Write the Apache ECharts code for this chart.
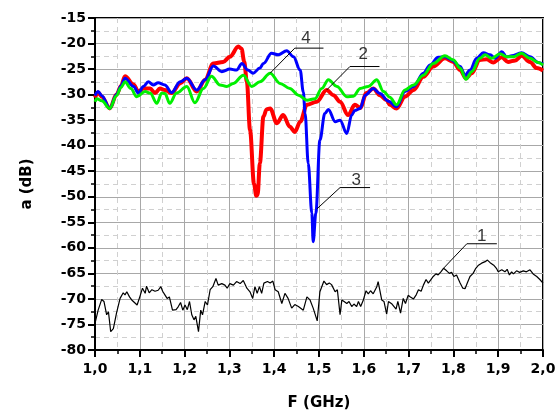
<!DOCTYPE html>
<html>
<head>
<meta charset="utf-8">
<script src="https://cdn.jsdelivr.net/npm/echarts@6/dist/echarts.min.js"></script>
<style>html,body{margin:0;padding:0;background:#fff}#c{width:557px;height:411px}</style>
</head>
<body>
<div id="c"></div>
<script>
// ---- data ----
const redF = [1.000,1.007,1.015,1.033,1.048,1.058,1.067,1.086,1.097,1.108,1.123,1.134,1.145,1.156,1.171,1.190,1.205,1.227,1.246,1.264,1.286,1.301,1.320,1.327,1.333,1.339,1.346,1.355,1.360,1.363,1.368,1.376,1.383,1.391,1.406,1.420,1.435,1.446,1.458,1.473,1.495,1.517,1.532,1.547,1.565,1.580,1.592,1.606,1.621,1.636,1.651,1.658,1.673,1.692,1.711,1.733,1.755,1.781,1.800,1.815,1.828,1.841,1.859,1.874,1.889,1.908,1.922,1.938,1.952,1.971,1.986,2.000];
const redA = [-30.6,-29.6,-30.4,-32.7,-30.0,-28.3,-26.4,-28.0,-29.4,-28.8,-28.8,-29.7,-28.8,-29.1,-29.7,-27.8,-26.8,-29.4,-27.1,-23.9,-23.6,-22.6,-20.6,-21.0,-23.5,-27.5,-36.9,-47.5,-49.8,-49.6,-43.4,-34.3,-32.9,-32.7,-35.6,-34.0,-36.3,-37.3,-35.3,-32.0,-31.4,-29.1,-30.1,-31.4,-34.0,-32.0,-32.6,-29.7,-28.8,-30.1,-31.1,-32.0,-32.7,-30.4,-29.1,-26.5,-24.5,-22.9,-23.6,-25.2,-26.8,-25.8,-23.2,-23.1,-23.7,-22.7,-23.6,-23.3,-22.4,-23.6,-24.8,-25.3];

const blueF = [1.000,1.007,1.015,1.033,1.048,1.058,1.067,1.086,1.097,1.108,1.119,1.130,1.141,1.156,1.171,1.190,1.205,1.227,1.246,1.264,1.283,1.301,1.316,1.328,1.341,1.353,1.368,1.376,1.394,1.409,1.428,1.443,1.458,1.465,1.469,1.476,1.484,1.487,1.493,1.502,1.513,1.521,1.536,1.547,1.562,1.573,1.580,1.592,1.603,1.621,1.636,1.655,1.673,1.692,1.711,1.733,1.748,1.766,1.781,1.796,1.815,1.826,1.837,1.852,1.867,1.882,1.893,1.908,1.919,1.930,1.952,1.971,1.989,2.000];
const blueA = [-30.2,-29.4,-30.2,-32.7,-30.0,-28.3,-26.8,-28.4,-29.7,-28.4,-27.5,-28.1,-27.7,-28.1,-29.6,-27.5,-26.8,-29.1,-27.1,-24.4,-25.5,-25.0,-25.2,-23.9,-25.2,-25.8,-24.8,-23.9,-21.9,-22.2,-21.4,-22.6,-25.2,-29.5,-33.7,-43.5,-53.2,-58.8,-53.2,-38.9,-33.7,-32.9,-35.3,-35.0,-37.6,-34.0,-33.1,-32.7,-30.1,-28.8,-29.8,-31.3,-32.4,-29.4,-28.4,-25.8,-24.2,-22.7,-22.6,-23.2,-24.5,-26.2,-25.2,-22.9,-21.8,-22.2,-22.9,-21.6,-22.6,-22.4,-21.8,-22.6,-23.7,-24.0];

const greenF = [1.000,1.004,1.015,1.033,1.048,1.058,1.067,1.080,1.093,1.112,1.123,1.138,1.149,1.156,1.167,1.182,1.205,1.223,1.242,1.260,1.279,1.294,1.309,1.331,1.350,1.368,1.391,1.413,1.435,1.454,1.473,1.491,1.506,1.521,1.540,1.562,1.577,1.592,1.610,1.629,1.644,1.658,1.673,1.692,1.711,1.733,1.755,1.781,1.800,1.815,1.828,1.841,1.859,1.871,1.885,1.904,1.919,1.934,1.952,1.971,1.989,2.000];
const greenA = [-31.4,-30.8,-31.2,-32.7,-30.2,-28.6,-27.5,-28.8,-30.4,-29.4,-29.7,-31.7,-29.7,-29.8,-31.7,-29.7,-28.4,-31.6,-28.8,-26.4,-28.1,-28.4,-27.8,-26.2,-28.4,-27.5,-25.8,-27.8,-28.8,-30.1,-31.1,-30.8,-28.8,-27.1,-28.4,-30.4,-30.3,-28.8,-28.4,-27.1,-29.4,-30.5,-32.0,-29.1,-28.1,-26.2,-23.9,-22.4,-23.2,-24.8,-27.0,-25.5,-22.9,-22.2,-22.9,-22.0,-22.6,-22.6,-21.9,-22.9,-23.7,-24.2];

const blackF = [1.000,1.007,1.015,1.020,1.026,1.030,1.035,1.041,1.048,1.056,1.063,1.067,1.071,1.077,1.082,1.094,1.100,1.106,1.112,1.115,1.121,1.127,1.134,1.141,1.147,1.151,1.156,1.161,1.166,1.173,1.181,1.186,1.191,1.196,1.201,1.206,1.211,1.216,1.221,1.225,1.231,1.236,1.240,1.246,1.251,1.257,1.263,1.270,1.275,1.283,1.290,1.295,1.301,1.309,1.316,1.324,1.331,1.339,1.346,1.352,1.357,1.362,1.367,1.372,1.377,1.385,1.391,1.397,1.402,1.409,1.417,1.424,1.431,1.439,1.446,1.454,1.465,1.473,1.480,1.487,1.496,1.502,1.511,1.517,1.523,1.528,1.536,1.541,1.547,1.551,1.556,1.562,1.567,1.573,1.578,1.584,1.588,1.593,1.599,1.605,1.610,1.615,1.621,1.629,1.632,1.640,1.645,1.651,1.655,1.658,1.663,1.667,1.672,1.676,1.682,1.688,1.693,1.699,1.704,1.711,1.717,1.722,1.728,1.733,1.739,1.744,1.749,1.755,1.761,1.766,1.772,1.778,1.785,1.791,1.796,1.801,1.807,1.815,1.821,1.826,1.831,1.837,1.844,1.850,1.856,1.863,1.871,1.876,1.882,1.890,1.896,1.900,1.908,1.915,1.920,1.925,1.930,1.934,1.941,1.948,1.956,1.963,1.971,1.978,1.986,1.993,2.000];
const blackA = [-74.8,-72.2,-70.1,-70.5,-73.1,-72.5,-76.4,-75.8,-72.8,-69.9,-68.8,-69.2,-68.6,-69.6,-70.2,-71.2,-69.6,-67.9,-68.9,-67.5,-68.8,-68.2,-68.5,-68.3,-67.6,-68.5,-69.2,-69.9,-69.6,-72.2,-72.1,-71.5,-70.7,-72.2,-71.2,-72.1,-70.5,-73.1,-74.1,-73.4,-76.4,-72.2,-73.1,-70.5,-71.2,-68.2,-67.6,-66.0,-67.3,-67.0,-67.3,-67.9,-67.0,-67.3,-66.6,-67.0,-66.4,-67.9,-68.6,-69.9,-67.6,-68.9,-67.6,-68.9,-66.9,-66.6,-66.9,-66.5,-68.2,-68.6,-70.9,-68.9,-69.9,-71.8,-71.1,-71.5,-72.2,-69.6,-70.2,-71.8,-74.3,-68.6,-66.5,-67.2,-66.9,-67.2,-68.6,-68.2,-73.1,-70.2,-70.5,-70.9,-70.5,-71.5,-71.0,-71.5,-70.5,-71.5,-70.2,-68.4,-69.0,-68.4,-69.0,-67.6,-66.6,-70.2,-70.5,-73.0,-70.5,-70.2,-71.0,-71.1,-72.0,-70.5,-72.8,-69.9,-70.9,-69.3,-69.6,-70.0,-69.2,-68.2,-68.5,-67.3,-66.2,-66.9,-66.3,-65.6,-65.1,-65.3,-64.7,-64.0,-64.5,-65.0,-64.8,-65.6,-65.3,-66.9,-67.9,-68.0,-66.9,-65.6,-65.0,-64.0,-63.4,-63.0,-62.7,-62.4,-62.9,-63.4,-64.0,-64.7,-64.3,-64.7,-64.2,-65.3,-64.7,-65.1,-64.5,-64.8,-64.5,-64.7,-64.3,-65.1,-65.6,-66.2,-66.9];

// curve labels and leader lines
const labelNames = ['1','2','3','4'];
const labelF = [1.863,1.599,1.583,1.471];
const labelA = [-57.8,-22.2,-46.7,-19.0];
const leader1F = [1.778,1.830,1.897], leader1A = [-64.0,-59.2,-59.2];
const leader2F = [1.517,1.569,1.635], leader2A = [-29.1,-24.5,-24.5];
const leader3F = [1.495,1.547,1.614], leader3A = [-52.4,-48.2,-48.2];
const leader4F = [1.391,1.446,1.510], leader4A = [-25.8,-20.9,-20.9];

const xMin = 1.0, xMax = 2.0, xStep = 0.1;
const yMin = -80, yMax = -15, yStep = 5;
const xTitle = 'F (GHz)', yTitle = 'a (dB)';

// ---- chart ----
const zip = (a, b) => a.map((v, i) => [v, b[i]]);
const font = 'DejaVu Sans';
const chart = echarts.init(document.getElementById('c'), null, {renderer: 'canvas'});

function curve(name, F, A, color, width, smooth) {
  return {
    name, type: 'line', data: zip(F, A), showSymbol: false, symbol: 'none',
    smooth: smooth, smoothMonotone: 'x',
    lineStyle: {color, width}, itemStyle: {color}, animation: false, silent: true
  };
}
function leader(F, A) {
  return {type: 'line', data: zip(F, A), symbol: 'none', lineStyle: {color: '#000', width: 1}, animation: false, silent: true, z: 5};
}

chart.setOption({
  animation: false,
  backgroundColor: '#fff',
  grid: {left: 95, right: 14, top: 18, bottom: 61, outerBoundsMode: 'none', containLabel: false,
    show: true, borderColor: '#000', borderWidth: 2, backgroundColor: 'transparent'},
  xAxis: {
    type: 'value', min: xMin, max: xMax, interval: xStep,
    name: xTitle, nameLocation: 'middle', nameGap: 46,
    nameTextStyle: {fontFamily: font, fontWeight: 'bold', fontSize: 15, color: '#000'},
    axisLine: {show: true, onZero: false, lineStyle: {color: '#000', width: 2}},
    axisTick: {show: true, inside: false, length: 7, lineStyle: {color: '#000', width: 2}},
    minorTick: {show: true, splitNumber: 2, length: 4, lineStyle: {color: '#000', width: 1.5}},
    axisLabel: {margin: 12, fontFamily: font, fontWeight: 'bold', fontSize: 14, color: '#000',
      formatter: v => v.toFixed(1).replace('.', ',')},
    splitLine: {show: true, lineStyle: {color: '#a8a8a8', width: 1}},
    minorSplitLine: {show: true, lineStyle: {color: '#d0d0d0', width: 1, type: [5, 4]}}
  },
  yAxis: {
    type: 'value', min: yMin, max: yMax, interval: yStep,
    name: yTitle, nameLocation: 'middle', nameGap: 60, nameRotate: 90,
    nameTextStyle: {fontFamily: font, fontWeight: 'bold', fontSize: 15, color: '#000'},
    axisLine: {show: true, onZero: false, lineStyle: {color: '#000', width: 2}},
    axisTick: {show: true, inside: false, length: 7, lineStyle: {color: '#000', width: 2}},
    minorTick: {show: true, splitNumber: 2, length: 4, lineStyle: {color: '#000', width: 1.5}},
    axisLabel: {margin: 9, fontFamily: font, fontWeight: 'bold', fontSize: 14, color: '#000'},
    splitLine: {show: true, lineStyle: {color: '#a8a8a8', width: 1}},
    minorSplitLine: {show: true, lineStyle: {color: '#d0d0d0', width: 1, type: [5, 4]}}
  },
  series: [
    curve('2', redF, redA, '#ff0000', 4, 0.35),
    curve('3', blueF, blueA, '#0000ff', 3, 0.35),
    curve('4', greenF, greenA, '#00f000', 3, 0.35),
    curve('1', blackF, blackA, '#000000', 1.2, false),
    leader(leader1F, leader1A),
    leader(leader2F, leader2A),
    leader(leader3F, leader3A),
    leader(leader4F, leader4A),
    {
      type: 'scatter', symbolSize: 0, animation: false, silent: true, z: 6,
      data: labelNames.map((n, i) => ({name: n, value: [labelF[i], labelA[i]]})),
      label: {show: true, position: 'inside', formatter: p => p.name,
        fontFamily: 'Liberation Sans, Arial', fontSize: 17, color: '#000'}
    }
  ]
});
</script>
</body>
</html>
